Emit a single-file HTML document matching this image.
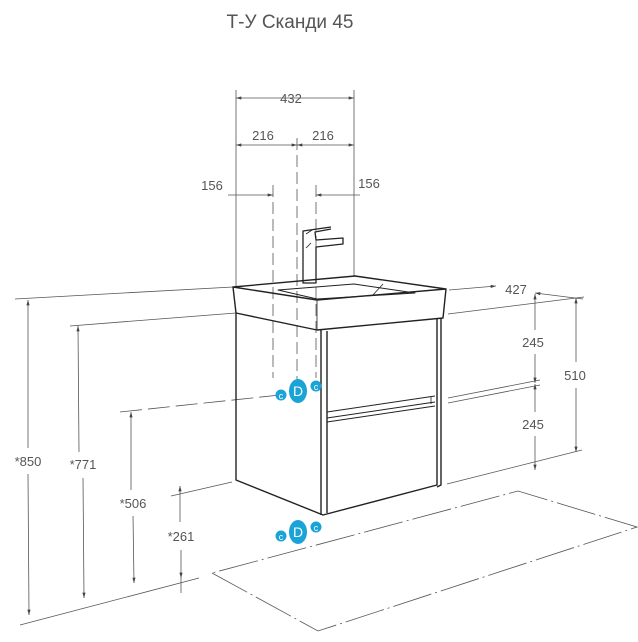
<!DOCTYPE html>
<html><head><meta charset="utf-8"><style>
body{margin:0;background:#fff}
svg{display:block}
text{font-family:"Liberation Sans",sans-serif;fill:#555;font-size:13px}
</style></head><body>
<svg width="638" height="642" viewBox="0 0 638 642" xmlns="http://www.w3.org/2000/svg">
<defs>
<marker id="a" viewBox="0 0 10 6" refX="10" refY="3" markerWidth="8" markerHeight="4" orient="auto-start-reverse"><path d="M0,0L10,3L0,6z" fill="#444"/></marker>
</defs>
<text x="290" y="28" text-anchor="middle" style="font-size:19px">Т-У Сканди 45</text>
<g stroke="#555" stroke-width="0.8" fill="none">
<line x1="236" y1="98" x2="354" y2="98" marker-start="url(#a)" marker-end="url(#a)"/>
<line x1="236" y1="145" x2="297" y2="145" marker-start="url(#a)" marker-end="url(#a)"/>
<line x1="297" y1="145" x2="354" y2="145" marker-start="url(#a)" marker-end="url(#a)"/>
<line x1="228" y1="195" x2="273" y2="195" marker-end="url(#a)"/>
<line x1="360" y1="195" x2="316" y2="195" marker-end="url(#a)"/>
<line x1="236" y1="90" x2="236" y2="286"/>
<line x1="354" y1="90" x2="354" y2="276"/>
<line x1="297" y1="138" x2="297" y2="400" stroke-dasharray="12,5"/>
<line x1="273" y1="185" x2="273" y2="378" stroke-dasharray="12,5"/>
<line x1="316" y1="185" x2="316" y2="378" stroke-dasharray="12,5"/>
<line x1="15" y1="299" x2="233" y2="287"/>
<line x1="70" y1="326" x2="236" y2="313"/>
<line x1="120" y1="412" x2="280" y2="395" stroke-dasharray="22,6"/>
<line x1="171" y1="496" x2="232" y2="482"/>
<line x1="28" y1="300" x2="28" y2="448" marker-start="url(#a)"/>
<line x1="28" y1="474" x2="29" y2="615" marker-end="url(#a)"/>
<line x1="78" y1="326" x2="79" y2="452" marker-start="url(#a)"/>
<line x1="83" y1="478" x2="84" y2="598" marker-end="url(#a)"/>
<line x1="131" y1="412" x2="131" y2="490" marker-start="url(#a)"/>
<line x1="133" y1="516" x2="134" y2="583" marker-end="url(#a)"/>
<line x1="180" y1="486" x2="180" y2="522" marker-start="url(#a)"/>
<line x1="181" y1="550" x2="181" y2="578" marker-end="url(#a)"/>
<line x1="181" y1="578" x2="181" y2="593"/>
<line x1="20" y1="625" x2="199" y2="578"/>
<line x1="447" y1="484" x2="582" y2="450"/>
<path d="M212,573 L318,631 L637,527 L518,491 Z" stroke-dasharray="40,4,2,4"/>
<line x1="449" y1="290" x2="496" y2="286" marker-end="url(#a)"/>
<line x1="535" y1="293" x2="583" y2="299" marker-start="url(#a)"/>
<line x1="448" y1="314" x2="584" y2="297"/>
<line x1="448" y1="398" x2="540" y2="380"/>
<line x1="448" y1="403" x2="540" y2="385"/>
<line x1="535" y1="294" x2="535" y2="330" marker-start="url(#a)"/>
<line x1="535" y1="354" x2="535" y2="383" marker-end="url(#a)"/>
<line x1="535" y1="384" x2="535" y2="412" marker-start="url(#a)"/>
<line x1="535" y1="436" x2="535" y2="470" marker-end="url(#a)"/>
<line x1="576" y1="298" x2="576" y2="362" marker-start="url(#a)"/>
<line x1="576" y1="388" x2="576" y2="452" marker-end="url(#a)"/>
</g>
<g stroke="#222" stroke-width="1.4" fill="none" stroke-linejoin="round">
<path d="M233,287 L355,276 L446,289 L317,300 Z"/>
<path d="M233,287 L236,313 L317,330 L443,318 L446,289"/>
<path d="M317,300 L317,330" stroke-width="0.8"/>
<path d="M278,290 L354,284 L415,293 L317,299 Z" stroke-width="1"/>
<path d="M372,296 L383,284" stroke-width="0.8"/>
<path d="M303,283 L303,231 L331,227 M303,231 L303,283 L316,283 L316,247 L343,244 L343,238 L316,240 L315,232 L331,229" stroke-width="1.3"/>
<path d="M306,248 L311,243 M306,234 L312,230" stroke-width="0.8"/>
<path d="M236,313 L236,480 L323,515 L437,485 L437,318"/>
<path d="M441,318 L441,485 L437,487"/>
<line x1="321" y1="330" x2="321" y2="515"/>
<line x1="327" y1="331" x2="327" y2="513"/>
<path d="M327,412 L435,396 M327,418 L435,402 M327,422 L435,406" stroke-width="1"/>
<line x1="431" y1="397" x2="431" y2="404" stroke-width="0.8"/>
</g>
<g fill="#1aa3d6">
<ellipse cx="298" cy="391" rx="9" ry="12"/>
<circle cx="281" cy="395" r="5.5"/>
<circle cx="316" cy="386" r="5.5"/>
<ellipse cx="298" cy="532" rx="9" ry="12"/>
<circle cx="281" cy="536" r="5.5"/>
<circle cx="316" cy="527" r="5.5"/>
</g>
<text x="298" y="396" text-anchor="middle" style="fill:#fff;font-size:14px">D</text>
<text x="281" y="399" text-anchor="middle" style="fill:#fff;font-size:9px">c</text>
<text x="316" y="390" text-anchor="middle" style="fill:#fff;font-size:9px">c</text>
<text x="298" y="537" text-anchor="middle" style="fill:#fff;font-size:14px">D</text>
<text x="281" y="540" text-anchor="middle" style="fill:#fff;font-size:9px">c</text>
<text x="316" y="531" text-anchor="middle" style="fill:#fff;font-size:9px">c</text>
<text x="291" y="103" text-anchor="middle">432</text>
<text x="263" y="140" text-anchor="middle">216</text>
<text x="323" y="140" text-anchor="middle">216</text>
<text x="212" y="190" text-anchor="middle">156</text>
<text x="369" y="188" text-anchor="middle">156</text>
<text x="516" y="294" text-anchor="middle">427</text>
<text x="533" y="347" text-anchor="middle">245</text>
<text x="533" y="429" text-anchor="middle">245</text>
<text x="575" y="380" text-anchor="middle">510</text>
<text x="28" y="466" text-anchor="middle">*850</text>
<text x="83" y="469" text-anchor="middle">*771</text>
<text x="133" y="508" text-anchor="middle">*506</text>
<text x="181" y="541" text-anchor="middle">*261</text>
</svg>
</body></html>
